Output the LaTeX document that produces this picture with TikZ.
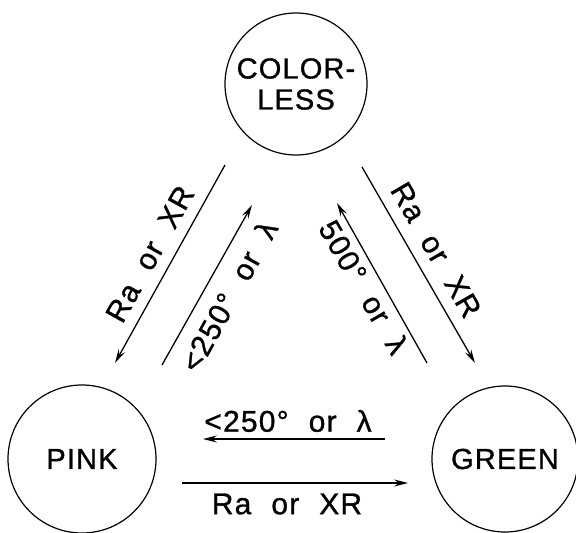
\documentclass[tikz,border=0pt]{standalone}
\usepackage{fontspec}
\setmainfont{Liberation Sans}[LetterSpace=4, WordSpace=2.1, FakeBold=1]
\usetikzlibrary{arrows.meta}
\tikzset{
  state/.style={circle, draw, line width=1.2pt, inner sep=0pt, font=\fontsize{29}{31}\selectfont, align=center},
  arr/.style={-{Stealth[length=14pt,width=7pt,inset=5pt]}, line width=1.3pt},
  lab/.style={font=\fontsize{30}{32}\selectfont, inner sep=0pt}
}
\begin{document}
\begin{tikzpicture}[x=1pt,y=-1pt]
\useasboundingbox (0,0) rectangle (576,533);
% states
\node[state, minimum size=142pt] (cl) at (296,84) {COLOR-\\LESS};
\node[state, minimum size=148pt] (pk) at (82,459) {PINK};
\node[state, minimum size=146pt] (gr) at (505,459) {GREEN};
% connector end points
\coordinate (a1) at (225,165); \coordinate (b1) at (115,363);
\coordinate (a2) at (162,365); \coordinate (b2) at (252,205);
\coordinate (a3) at (362,167); \coordinate (b3) at (475,363);
\coordinate (a4) at (427,363); \coordinate (b4) at (337,203);
\coordinate (a5) at (385,439); \coordinate (b5) at (203,439);
\coordinate (a6) at (182,483); \coordinate (b6) at (408,483);
% connectors
\draw[arr] (a1) -- (b1);
\draw[arr] (a2) -- (b2);
\draw[arr] (a3) -- (b3);
\draw[arr] (a4) -- (b4);
\draw[arr] (a5) -- (b5);
\draw[arr] (a6) -- (b6);
% labels
\node[lab, rotate=61] (l1) at (150,254) {Ra or XR};
\node[lab, rotate=61] (l2) at (229,296) {<250° or λ};
\node[lab, rotate=-60] (l3) at (436,250) {Ra or XR};
\node[lab, rotate=-60] (l4) at (364,287) {500° or λ};
\node[lab] (l5) at (288,421) {<250° or λ};
\node[lab] (l6) at (287,504) {Ra or XR};
\end{tikzpicture}
\end{document}
